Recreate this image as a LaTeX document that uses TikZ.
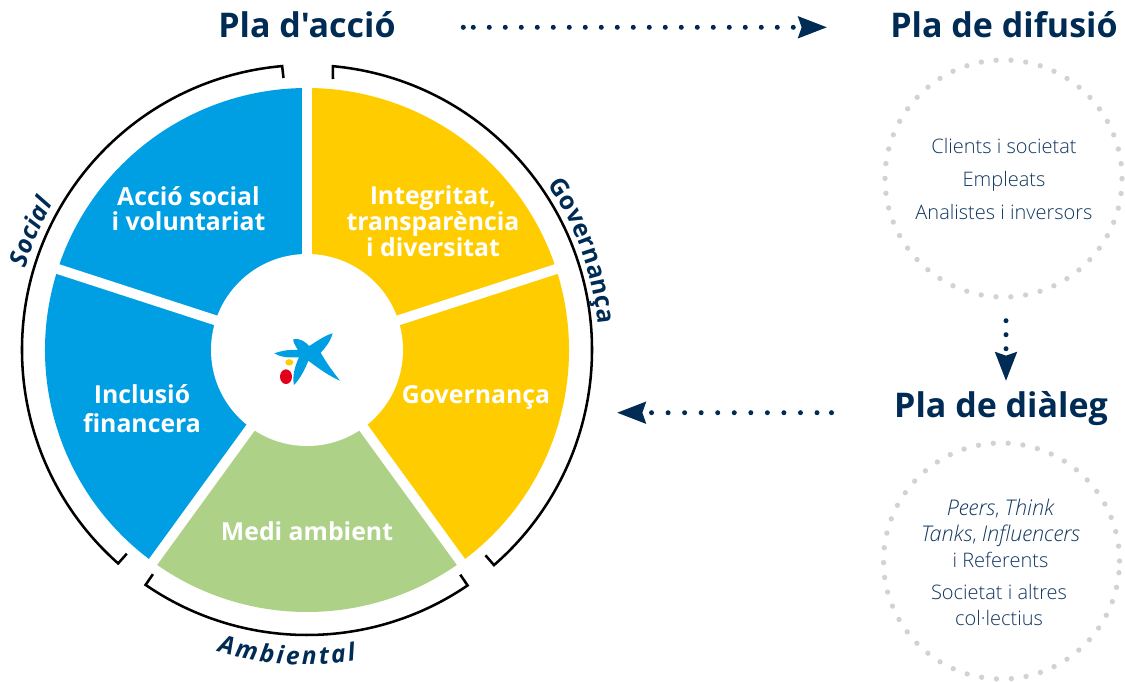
\documentclass[tikz,border=0pt]{standalone}
\usepackage{fontspec}
\setmainfont{Open Sans}
\newfontfamily\lightf{Open Sans Light}
\newfontfamily\titlef{Open Sans}
\usetikzlibrary{arrows.meta,decorations.text,calc}
\definecolor{navy}{HTML}{002B54}
\definecolor{listnavy}{HTML}{12365F}
\definecolor{cblue}{HTML}{009FE3}
\definecolor{cyellow}{HTML}{FFCC00}
\definecolor{cgreen}{HTML}{AED188}
\definecolor{cred}{HTML}{E2001A}
\definecolor{dotgrey}{HTML}{D2D2D2}
\newcommand{\itl}[1]{{\fontsize{16.2}{19.5}\selectfont\itshape #1}}
\tikzset{
  x=0.75pt,y=-0.75pt,
  sector/.style={line width=0pt},
  gapline/.style={white,line width=7.5pt},
  bracket/.style={draw=black,line width=1.9pt,line join=miter},
  wheeltext/.style={text=white,font=\fontsize{18.6}{19.3}\selectfont\bfseries,align=center,inner sep=0pt},
  title/.style={text=navy,font=\titlef\fontsize{25.5}{28}\selectfont\bfseries,inner sep=0pt},
  listtext/.style={text=listnavy,font=\lightf\fontsize{15}{19.5}\selectfont,align=center,inner sep=0pt},
  dotconn/.style={navy,line width=3.75pt,line cap=round,dash pattern=on 0pt off #1,
    -{Stealth[length=21.5pt,width=16pt,inset=2.5pt,line cap=butt]}},
  ringdots/.style={dotgrey,line width=4pt,line cap=round,dash pattern=on 0pt off 11.17pt},
}
\begin{document}
\begin{tikzpicture}
\useasboundingbox (0,0) rectangle (1125,682);
\coordinate (c) at (307,350);
\def\R{196.5pt}
% sectors
\fill[cblue,sector] (c) -- ++(90:\R) arc[start angle=90,end angle=162,radius=\R] -- cycle;
\fill[cblue,sector] (c) -- ++(162:\R) arc[start angle=162,end angle=234,radius=\R] -- cycle;
\fill[cgreen,sector] (c) -- ++(234:\R) arc[start angle=234,end angle=306,radius=\R] -- cycle;
\fill[cyellow,sector] (c) -- ++(306:\R) arc[start angle=306,end angle=378,radius=\R] -- cycle;
\fill[cyellow,sector] (c) -- ++(18:\R) arc[start angle=18,end angle=90,radius=\R] -- cycle;
\foreach \a in {90,162,234,306,18} \draw[gapline] (c) -- ++(\a:200pt);
\fill[white] (c) circle[radius=72pt];
% brackets
\def\Rb{213.75pt}
\coordinate (t1) at (283.5,78);
\coordinate (t2) at (333,79);
\draw[bracket] (t1) -- ($(c)+(95:\Rb)$) arc[start angle=95,end angle=228.5,radius=\Rb] -- ($(c)+(228.5:204pt)$);
\draw[bracket] (t2) -- ($(c)+(84.8:\Rb)$) arc[start angle=84.8,end angle=-49,radius=\Rb] -- ($(c)+(-49:204pt)$);
\draw[bracket] ($(c)+(235.5:204pt)$) -- ($(c)+(235.5:\Rb)$) arc[start angle=235.5,end angle=304.3,radius=\Rb] -- ($(c)+(304.3:204pt)$);
% arc labels
\path[decorate,decoration={text along path,text align=fit to path,text color=navy,
  text={|\fontsize{18.5}{20}\selectfont\bfseries\itshape|Social}}]
  ($(c)+(163.8:220pt)$) arc[start angle=163.8,end angle=150,radius=220pt];
\path[decorate,decoration={text along path,text align=fit to path,text color=navy,
  text={|\fontsize{18.5}{20}\selectfont\bfseries|Governança}}]
  ($(c)+(34.5:219pt)$) arc[start angle=34.5,end angle=5,radius=219pt];
\path[decorate,decoration={text along path,text align=fit to path,text color=navy,
  text={|\fontsize{18.5}{20}\selectfont\bfseries\itshape|Ambiental}}]
  ($(c)+(253.4:236pt)$) arc[start angle=253.4,end angle=279,radius=236pt];
% wheel labels
\node[wheeltext] (soc) at (188.5,208.5) {Acció social\\i voluntariat};
\node[wheeltext] (int) at (433,221) {Integritat,\\transparència\\i diversitat};
\node[wheeltext] (gov) at (476,397) {Governança};
\node[wheeltext,font=\fontsize{18.6}{21.5}\selectfont\bfseries] (inc) at (142,408.5) {Inclusió\\financera};
\node[wheeltext] (med) at (307,531) {Medi ambient};
% logo
\fill[cblue] (274.3,353.3) .. controls (287,349) and (293,350) .. (298,350)
  .. controls (295,345) and (293,342) .. (293.3,339.3)
  .. controls (301,338) and (305,342) .. (309.3,346)
  .. controls (317,341) and (326,335) .. (332.7,333.3)
  .. controls (330,342) and (326,347) .. (320.7,352.7)
  .. controls (327,364) and (334,373) .. (340,380.7)
  .. controls (329,376) and (318,368) .. (308.3,360.7)
  .. controls (305,370) and (299,380) .. (294,385)
  .. controls (292,376) and (295,366) .. (299,357.3)
  .. controls (288,358) and (280,357) .. (274.3,353.3) -- cycle;
\fill[cyellow] (289.3,362.3) ellipse[x radius=3pt,y radius=2.4pt];
\fill[cred] (286,376.7) ellipse[x radius=4.5pt,y radius=5.5pt];
% titles
\node[title] (acc) at (307,25) {Pla d'acció};
\node[title] (dif) at (1004,25) {Pla de difusió};
\node[title] (dia) at (1001,409) {Pla de diàleg};
% lists
\draw[ringdots] (1003.5,178.5) circle[radius=88.9pt];
\draw[ringdots] (1001.5,561) circle[radius=88.5pt];
\node[listtext,anchor=base] (l1) at (1004,153.5) {Clients i societat};
\node[listtext,anchor=base] (l2) at (1004,186.5) {Empleats};
\node[listtext,anchor=base] (l3) at (1004,219.5) {Analistes i inversors};
\node[listtext] (l4) at (1000.5,533) {\itl{Peers}, \itl{Think}\\\itl{Tanks}, \itl{Influencers}\\i Referents};
\node[listtext] (l5) at (999,605) {Societat i altres\\col·lectius};
% arrows
\coordinate (a1d) at (463.3,27.3); \coordinate (a1s) at (473.3,27.3); \coordinate (a1e) at (827,27.3);
\coordinate (a2s) at (1006,320.7); \coordinate (a2e) at (1006,381);
\coordinate (a3d) at (831.5,412.7); \coordinate (a3s) at (817,412.7); \coordinate (a3e) at (617,412.7);
\fill[navy] (a1d) circle[radius=1.9pt];
\fill[navy] (a3d) circle[radius=1.9pt];
\draw[dotconn=12pt] (a1s) -- (a1e);
\draw[dotconn=10.5pt] (a2s) -- (a2e);
\draw[dotconn=12.41pt] (a3s) -- (a3e);
\end{tikzpicture}
\end{document}
